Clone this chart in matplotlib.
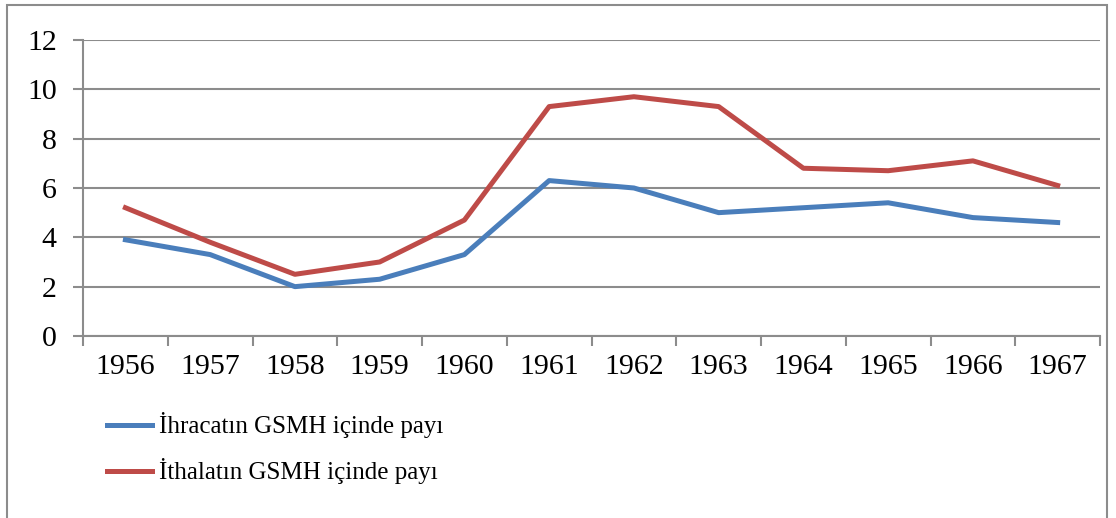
import matplotlib.pyplot as plt
from matplotlib.patches import Rectangle

# Data
years = ['1956', '1957', '1958', '1959', '1960', '1961',
         '1962', '1963', '1964', '1965', '1966', '1967']
ihracat = [3.9, 3.3, 2.0, 2.3, 3.3, 6.3, 6.0, 5.0, 5.2, 5.4, 4.8, 4.6]
ithalat = [5.2, 3.8, 2.5, 3.0, 4.7, 9.3, 9.7, 9.3, 6.8, 6.7, 7.1, 6.1]
labels = ['İhracatın GSMH içinde payı', 'İthalatın GSMH içinde payı']

plt.rcParams['font.family'] = ['Liberation Serif', 'DejaVu Serif']

grid_color = '#8c8c8c'

fig = plt.figure(figsize=(11.16, 5.18), dpi=100)
ax = fig.add_axes([0.0744, 0.3514, 0.9113, 0.5714])

# chart border
fig.patches.append(Rectangle((7 / 1116, -0.05), 1100 / 1116, 1 - 5 / 518 + 0.05,
                             transform=fig.transFigure, fill=False,
                             edgecolor='#8c8c8c', linewidth=1.5))

x = range(len(years))
ax.plot(x, ihracat, color='#4a7ebb', linewidth=3.6, label=labels[0])
ax.plot(x, ithalat, color='#be4b48', linewidth=3.6, label=labels[1])

ax.set_ylim(0, 12)
ax.set_yticks(range(0, 13, 2))
ax.set_xlim(-0.5, len(years) - 0.5)
ax.yaxis.grid(True, color=grid_color, linewidth=1.5)
ax.set_axisbelow(True)

# category boundary ticks, labels in the middle
ax.set_xticks([i - 0.5 for i in range(len(years) + 1)])
ax.set_xticklabels([])
ax.set_xticks(list(x), minor=True)
ax.set_xticklabels(years, minor=True)
ax.tick_params(axis='x', which='major', length=7, width=1.5, color=grid_color)
ax.tick_params(axis='x', which='minor', length=0, pad=13, labelsize=21.5)
ax.tick_params(axis='y', length=7, width=1.5, color=grid_color, pad=12, labelsize=21.5)

for side in ['top', 'right']:
    ax.spines[side].set_visible(False)
for side in ['left', 'bottom']:
    ax.spines[side].set_color(grid_color)
    ax.spines[side].set_linewidth(1.5)

fig.legend(loc='upper left', bbox_to_anchor=(84 / 1116, 1 - 390 / 518),
           frameon=False, fontsize=18, handlelength=1.8, handletextpad=0.3,
           labelspacing=0.8)

plt.savefig('out.png', dpi=100)
